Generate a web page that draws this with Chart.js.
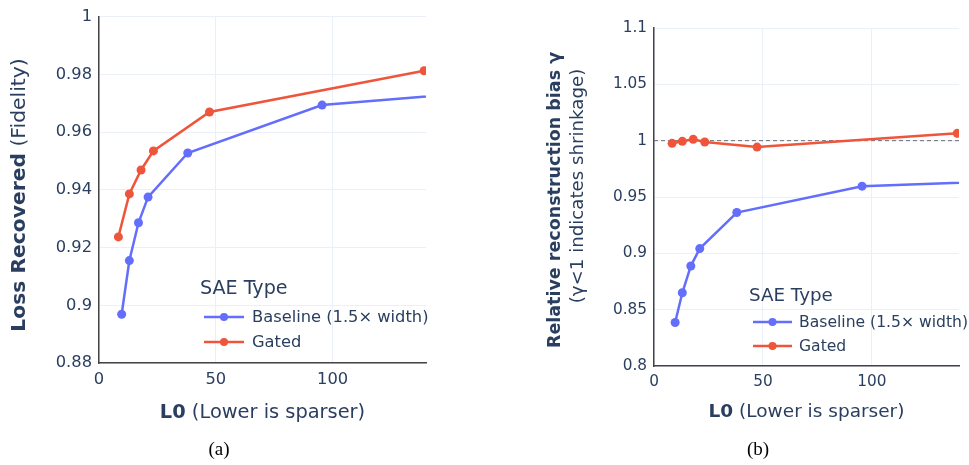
<!DOCTYPE html>
<html lang="en">
<head>
<meta charset="UTF-8">
<title>Gated vs Baseline SAE</title>
<script src="https://cdn.jsdelivr.net/npm/chart.js"></script>
<style>
  body { margin: 0; background: #fff; width: 969px; height: 465px; position: relative; overflow: hidden; }
  .panel { position: absolute; top: 0; height: 465px; }
  #panelA { left: 0; width: 480px; }
  #panelB { left: 480px; width: 489px; }
  .caption { position: absolute; top: 439px; line-height: 20px; font-family: "Liberation Serif", "Times New Roman", serif; font-size: 19px; color: #000; transform: translateX(-50%); }
</style>
</head>
<body>

<div class="panel" id="panelA"><canvas id="fidelityChart" width="480" height="465"></canvas></div>
<div class="panel" id="panelB"><canvas id="gammaChart" width="489" height="465"></canvas></div>
<div class="caption" style="left:219px">(a)</div>
<div class="caption" style="left:758px">(b)</div>

<script>
// L0 per run (last baseline run sits past the x range and is clipped)
const baseL0  = [9.7, 13.0, 16.9, 21.0, 38.0, 95.5, 185];
const gatedL0 = [8.3, 13.0, 18.0, 23.3, 47.3, 139.2];

// loss recovered (fidelity)
const baseFidelity  = [0.8969, 0.9155, 0.9286, 0.9375, 0.9528, 0.9694, 0.9754];
const gatedFidelity = [0.9237, 0.9386, 0.9469, 0.9535, 0.9670, 0.9813];

// relative reconstruction bias gamma
const baseGamma  = [0.8386, 0.8650, 0.8888, 0.9042, 0.9362, 0.9596, 0.9656];
const gatedGamma = [0.9976, 0.9994, 1.0012, 0.9988, 0.9943, 1.0065];

const seriesNames = ['Baseline (1.5\u00d7 width)', 'Gated'];
const seriesColors = ['#636efa', '#ef553b'];
const legendTitle = 'SAE Type';

const xTicks = [0, 50, 100];
const fidelityTicks = [0.88, 0.9, 0.92, 0.94, 0.96, 0.98, 1];
const gammaTicks = [0.8, 0.85, 0.9, 0.95, 1, 1.05, 1.1];
const noShrinkLevel = 1;

const FONT = '"DejaVu Sans", Verdana, sans-serif';
const INK = '#2a3f5f';

function pts(xs, ys) {
    return xs.map((x, i) => ({ x: x, y: ys[i] }));
}

function makeDatasets(baseY, gatedY) {
    return [pts(baseL0, baseY), pts(gatedL0, gatedY)].map((d, i) => ({
        label: seriesNames[i],
        data: d,
        borderColor: seriesColors[i],
        backgroundColor: seriesColors[i],
        borderWidth: 2.5,
        pointRadius: 4.5,
        pointHoverRadius: 4.5,
        pointBorderWidth: 0,
        tension: 0,
        clip: 0
    }));
}

// draws a run of [text, weight] pieces centred on (x, y)
function drawRich(ctx, parts, x, y, size) {
    let widths = parts.map(p => {
        ctx.font = p[1] + ' ' + size + 'px ' + FONT;
        return ctx.measureText(p[0]).width;
    });
    let total = widths.reduce((a, b) => a + b, 0);
    let cx = x - total / 2;
    ctx.textAlign = 'left';
    ctx.textBaseline = 'middle';
    parts.forEach((p, i) => {
        ctx.font = p[1] + ' ' + size + 'px ' + FONT;
        ctx.fillText(p[0], cx, y);
        cx += widths[i];
    });
}

function titlesPlugin(cfg) {
    return {
        id: 'axisTitles',
        afterDraw(chart) {
            let ctx = chart.ctx;
            ctx.save();
            ctx.fillStyle = INK;
            drawRich(ctx, cfg.xTitle.parts, cfg.xTitle.x, cfg.xTitle.y, cfg.xTitle.size);
            cfg.yTitles.forEach(t => {
                ctx.save();
                ctx.translate(t.x, t.y);
                ctx.rotate(-Math.PI / 2);
                drawRich(ctx, t.parts, 0, 0, t.size);
                ctx.restore();
            });
            ctx.restore();
        }
    };
}

function legendPlugin(pos) {
    return {
        id: 'saeLegend',
        afterDraw(chart) {
            let ctx = chart.ctx;
            ctx.save();
            ctx.fillStyle = INK;
            ctx.textAlign = 'left';
            ctx.textBaseline = 'middle';
            ctx.font = pos.titleSize + 'px ' + FONT;
            ctx.fillText(legendTitle, pos.x, pos.y);
            chart.data.datasets.forEach((ds, i) => {
                let y = pos.y + pos.first + i * pos.gap;
                ctx.strokeStyle = ds.borderColor;
                ctx.lineWidth = 2.5;
                ctx.beginPath();
                ctx.moveTo(pos.x + 4, y);
                ctx.lineTo(pos.x + pos.line, y);
                ctx.stroke();
                ctx.fillStyle = ds.backgroundColor;
                ctx.beginPath();
                ctx.arc(pos.x + 4 + (pos.line - 4) / 2, y, 4, 0, Math.PI * 2);
                ctx.fill();
                ctx.fillStyle = INK;
                ctx.font = pos.size + 'px ' + FONT;
                ctx.fillText(ds.label, pos.x + pos.text, y + 1);
            });
            ctx.restore();
        }
    };
}

// dashed guide at gamma = 1
const guidePlugin = {
    id: 'noShrinkGuide',
    beforeDatasetsDraw(chart) {
        let ctx = chart.ctx;
        let a = chart.chartArea;
        let y = chart.scales.y.getPixelForValue(noShrinkLevel);
        ctx.save();
        ctx.strokeStyle = '#6b6b6b';
        ctx.lineWidth = 1;
        ctx.setLineDash([4, 3]);
        ctx.beginPath();
        ctx.moveTo(a.left, y);
        ctx.lineTo(a.right, y);
        ctx.stroke();
        ctx.restore();
    }
};

function axisOptions(yTicks, yMin, yMax, yWidth, xHeight, tickSize) {
    return {
        x: {
            type: 'linear',
            min: 0,
            max: 140,
            afterBuildTicks: s => { s.ticks = xTicks.map(v => ({ value: v })); },
            afterFit: s => { s.height = xHeight; },
            grid: { color: '#ebf0f8', lineWidth: 1, drawTicks: false },
            border: { color: '#444', width: 1.5 },
            ticks: { color: INK, font: { family: FONT, size: tickSize }, padding: 7, maxRotation: 0 }
        },
        y: {
            type: 'linear',
            min: yMin,
            max: yMax,
            afterBuildTicks: s => { s.ticks = yTicks.map(v => ({ value: v })); },
            afterFit: s => { s.width = yWidth; },
            grid: { color: '#ebf0f8', lineWidth: 1, drawTicks: false },
            border: { color: '#444', width: 1.5 },
            ticks: {
                color: INK,
                font: { family: FONT, size: tickSize },
                padding: 7,
                callback: v => String(+v.toFixed(2))
            }
        }
    };
}

Chart.defaults.animation = false;

new Chart(document.getElementById('fidelityChart'), {
    type: 'line',
    data: { datasets: makeDatasets(baseFidelity, gatedFidelity) },
    options: {
        responsive: false,
        layout: { padding: { top: 10, right: 54, left: 0, bottom: 0 } },
        scales: axisOptions(fidelityTicks, 0.88, 1, 99, 102, 16.3),
        plugins: { legend: { display: false }, tooltip: { enabled: false } }
    },
    plugins: [
        titlesPlugin({
            xTitle: { parts: [['L0', 'bold'], [' (Lower is sparser)', 'normal']], x: 262.5, y: 413, size: 19.4 },
            yTitles: [{ parts: [['Loss Recovered', 'bold'], [' (Fidelity)', 'normal']], x: 20, y: 195, size: 20.3 }]
        }),
        legendPlugin({ x: 200, y: 289, first: 28, gap: 25, line: 44, text: 52, size: 16.3, titleSize: 19.1 })
    ]
});

new Chart(document.getElementById('gammaChart'), {
    type: 'line',
    data: { datasets: makeDatasets(baseGamma, gatedGamma) },
    options: {
        responsive: false,
        layout: { padding: { top: 28, right: 10, left: 0, bottom: 0 } },
        scales: axisOptions(gammaTicks, 0.8, 1.1, 174, 99, 15.3),
        plugins: { legend: { display: false }, tooltip: { enabled: false } }
    },
    plugins: [
        guidePlugin,
        titlesPlugin({
            xTitle: { parts: [['L0', 'bold'], [' (Lower is sparser)', 'normal']], x: 326.5, y: 412, size: 18.5 },
            yTitles: [
                { parts: [['Relative reconstruction bias \u03b3', 'bold']], x: 75, y: 200, size: 17.5 },
                { parts: [['(\u03b3<1 indicates shrinkage)', 'normal']], x: 98, y: 186, size: 18.2 }
            ]
        }),
        legendPlugin({ x: 269, y: 296, first: 26, gap: 24, line: 43, text: 50, size: 15.6, titleSize: 18.3 })
    ]
});
</script>
</body>
</html>
